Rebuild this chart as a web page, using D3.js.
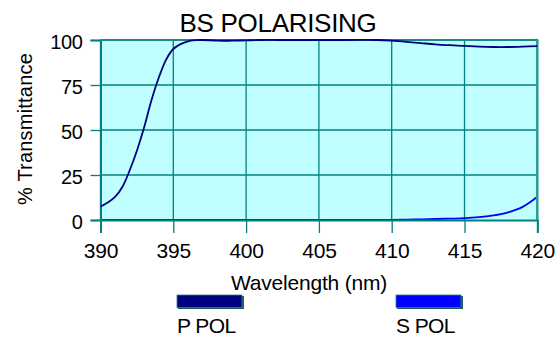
<!DOCTYPE html>
<html>
<head>
<meta charset="utf-8">
<script src="https://cdn.jsdelivr.net/npm/d3@7"></script>
<style>
  html, body { margin: 0; padding: 0; background: #fff; }
  svg { display: block; font-family: Arial, "Liberation Sans", sans-serif; }
</style>
</head>
<body>
<svg id="chart" width="556" height="338"></svg>
<script>
// Transmission of a polarising beamsplitter, P and S polarisation
const title = "BS POLARISING";
const xLabel = "Wavelength (nm)";
const yLabel = "% Transmittance";

const xTicks = [390, 395, 400, 405, 410, 415, 420];
const yTicks = [0, 25, 50, 75, 100];

const pWavelength = [390, 390.5, 391, 391.5, 392, 392.5, 393, 393.5, 394, 394.5, 395, 395.5, 396, 396.5, 397, 398, 399, 400, 401, 403, 405, 407, 409, 410, 411, 412, 413, 414, 415, 416, 417, 418, 419, 420];
const pValues     = [7.4, 9.7, 12.8, 18.3, 27.5, 38.5, 51.5, 66.5, 79, 89, 95, 97.7, 99.3, 99.9, 100, 99.7, 99.6, 99.8, 100, 100, 100, 100, 100, 99.6, 99.0, 98.3, 97.6, 97.1, 96.7, 96.3, 96.1, 96.1, 96.3, 96.6];

const sWavelength = [390, 395, 400, 405, 410, 411, 412, 413, 414, 415, 416, 417, 417.5, 418, 418.5, 419, 419.5, 420];
const sValues     = [0, 0, 0, 0, 0.05, 0.2, 0.35, 0.55, 0.75, 1.0, 1.6, 2.6, 3.3, 4.3, 5.6, 7.3, 9.8, 12.9];

const seriesNames = ["P POL", "S POL"];
const seriesColors = ["#000080", "#0000ff"];

const svg = d3.select("#chart");
const plotLeft = 100.5, plotRight = 537.3, plotTop = 40, plotBottom = 220;

const x = d3.scaleLinear().domain([390, 420]).range([plotLeft, plotRight]);
const y = d3.scaleLinear().domain([0, 100]).range([plotBottom, plotTop]);

// plot background
svg.append("rect")
  .attr("x", plotLeft).attr("y", plotTop)
  .attr("width", plotRight - plotLeft).attr("height", plotBottom - plotTop)
  .attr("fill", "#c0ffff");

// grid
const grid = svg.append("g").attr("stroke", "#008080").attr("stroke-width", 1.3);
grid.selectAll(".gx").data(xTicks).join("line")
  .attr("x1", d => x(d)).attr("x2", d => x(d))
  .attr("y1", plotTop).attr("y2", plotBottom);
grid.selectAll(".gy").data(yTicks.filter(d => d > 0)).join("line")
  .attr("x1", plotLeft).attr("x2", plotRight)
  .attr("y1", d => y(d)).attr("y2", d => y(d));

// curves (S first, P on top)
const line = d3.line()
  .x(d => x(d[0])).y(d => y(d[1]))
  .curve(d3.curveCatmullRom.alpha(0.5));

svg.append("path")
  .datum(d3.zip(sWavelength, sValues))
  .attr("d", line).attr("fill", "none")
  .attr("stroke", seriesColors[1]).attr("stroke-width", 1.8);

// axes drawn over the S baseline
const xAxis = d3.axisBottom(x).tickValues(xTicks).tickSize(13).tickPadding(10).tickFormat(d3.format("d"));
const yAxis = d3.axisLeft(y).tickValues(yTicks).tickSize(10).tickPadding(8).tickFormat(d3.format("d"));

const gx = svg.append("g").attr("transform", `translate(0,${plotBottom})`).call(xAxis);
const gy = svg.append("g").attr("transform", `translate(${plotLeft},0)`).call(yAxis);
[gx, gy].forEach(g => {
  g.select(".domain").attr("stroke", "#008080").attr("stroke-width", 2);
  g.selectAll(".tick line").attr("stroke", "#008080").attr("stroke-width", 1.3);
  g.selectAll(".tick text").attr("fill", "#000")
    .attr("font-family", "Arial, 'Liberation Sans', sans-serif");
});
gx.selectAll(".tick text").attr("font-size", 21).attr("dy", "0.71em").attr("letter-spacing", -0.2);
gy.selectAll(".tick text").attr("font-size", 20).attr("dy", "0.44em").attr("letter-spacing", -0.4);

// frame top and right
svg.append("line").attr("x1", plotLeft).attr("x2", plotRight + 1).attr("y1", plotTop).attr("y2", plotTop)
  .attr("stroke", "#188a8a").attr("stroke-width", 2);
svg.append("line").attr("x1", plotRight).attr("x2", plotRight).attr("y1", plotTop).attr("y2", plotBottom)
  .attr("stroke", "#2a9a9a").attr("stroke-width", 2.5);

svg.append("path")
  .datum(d3.zip(pWavelength, pValues))
  .attr("d", line).attr("fill", "none")
  .attr("stroke", seriesColors[0]).attr("stroke-width", 1.8);

// titles
svg.append("text")
  .attr("x", 278).attr("y", 31.5)
  .attr("text-anchor", "middle").attr("font-size", 26).attr("letter-spacing", -0.3)
  .attr("fill", "#000").text(title);

svg.append("text")
  .attr("x", 309).attr("y", 289.5)
  .attr("text-anchor", "middle").attr("font-size", 21).attr("letter-spacing", -0.2)
  .attr("fill", "#000").text(xLabel);

svg.append("text")
  .attr("transform", "translate(32,129) rotate(-90)")
  .attr("text-anchor", "middle").attr("font-size", 20).attr("letter-spacing", 0.2)
  .attr("fill", "#000").text(yLabel);

// legend
const legendX = [177, 396];
const legend = svg.append("g");
seriesNames.forEach((name, i) => {
  legend.append("rect")
    .attr("x", legendX[i] + 1).attr("y", 296)
    .attr("width", 66).attr("height", 13)
    .attr("fill", "#1d5a5a");
  legend.append("rect")
    .attr("x", legendX[i]).attr("y", 295)
    .attr("width", 65).attr("height", 12.5)
    .attr("fill", seriesColors[i])
    .attr("stroke", "#2b7f86").attr("stroke-width", 0.8);
  legend.append("text")
    .attr("x", legendX[i]).attr("y", 333)
    .attr("font-size", 21).attr("letter-spacing", -0.6)
    .attr("fill", "#000").text(name);
});
</script>
</body>
</html>
